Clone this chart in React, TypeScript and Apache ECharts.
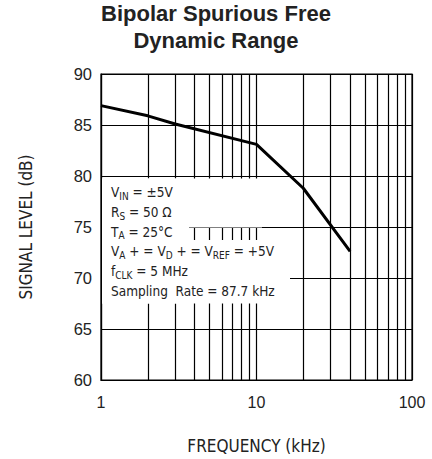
import React, { useEffect, useRef } from "react";
import * as echarts from "echarts";

const freqKHz = [1, 2, 3, 10, 20, 40];
const signalDb = [86.9, 85.9, 85.1, 83.1, 78.8, 72.6];
const minorGridX = [2, 3, 4, 5, 6, 7, 8, 9, 20, 30, 40, 50, 60, 70, 80, 90];
const xTickLabels = ["1", "10", "100"];
const yTicks = [60, 65, 70, 75, 80, 85, 90];
const noteLines = [
  "V{sub|IN} = ±5V",
  "R{sub|S} = 50 Ω",
  "T{sub|A} = 25°C",
  "V{sub|A} + = V{sub|D} + = V{sub|REF} = +5V",
  "f{sub|CLK} = 5 MHz",
  "Sampling  Rate = 87.7 kHz",
];

const plotFont = "'DejaVu Sans Condensed', 'Liberation Sans Narrow', 'DejaVu Sans', sans-serif";
const tickFont = "'Liberation Sans', Arial, sans-serif";

export default function App() {
  const ref = useRef<HTMLDivElement>(null);
  useEffect(() => {
    document.body.style.margin = "0";
    if (!ref.current) return;
    const chart = echarts.init(ref.current, null, { renderer: "svg" });
    chart.setOption({
      animation: false,
      backgroundColor: "#fff",
      title: {
        text: "Bipolar Spurious Free\nDynamic Range",
        left: "center",
        top: 0,
        padding: 0,
        textStyle: {
          fontFamily: tickFont,
          fontWeight: "bold",
          fontSize: 22,
          lineHeight: 27,
          color: "#222",
        },
      },
      grid: {
        left: 101,
        right: 20,
        top: 74,
        bottom: 76,
        show: true,
        borderColor: "#000",
        borderWidth: 1.2,
      },
      xAxis: {
        type: "log",
        logBase: 10,
        min: 1,
        max: 100,
        name: "FREQUENCY (kHz)",
        nameLocation: "middle",
        nameGap: 57,
        nameTextStyle: { fontFamily: plotFont, fontSize: 17, color: "#222" },
        axisLine: { show: true, lineStyle: { color: "#000", width: 1.2 } },
        axisTick: { show: false },
        axisLabel: {
          fontFamily: tickFont,
          fontSize: 16,
          color: "#222",
          margin: 14,
          formatter: (v: number) => {
            const i = [1, 10, 100].indexOf(Math.round(v));
            return i >= 0 ? xTickLabels[i] : "";
          },
        },
        splitLine: { show: true, lineStyle: { color: "#000", width: 1.2 } },
      },
      yAxis: {
        type: "value",
        min: yTicks[0],
        max: yTicks[yTicks.length - 1],
        interval: 5,
        name: "SIGNAL LEVEL (dB)",
        nameLocation: "middle",
        nameGap: 67,
        nameTextStyle: { fontFamily: plotFont, fontSize: 17, color: "#222" },
        axisLine: { show: true, lineStyle: { color: "#000", width: 1.2 } },
        axisTick: { show: false },
        axisLabel: { fontFamily: tickFont, fontSize: 16.5, color: "#222", margin: 9 },
        splitLine: { show: true, lineStyle: { color: "#000", width: 1.2 } },
      },
      series: [
        {
          type: "line",
          data: freqKHz.map((f, i) => [f, signalDb[i]]),
          showSymbol: false,
          lineStyle: { color: "#000", width: 3 },
          z: 5,
          markLine: {
            silent: true,
            symbol: "none",
            label: { show: false },
            lineStyle: { color: "#000", width: 1.2, type: "solid" },
            data: minorGridX.map((x) => ({ xAxis: x })),
            z: 1,
          },
        },
      ],
      graphic: [
        { type: "rect", z: 100, shape: { x: 102, y: 178.5, width: 160, height: 49 }, style: { fill: "#fff" } },
        { type: "rect", z: 100, shape: { x: 102, y: 178.5, width: 87, height: 125 }, style: { fill: "#fff" } },
        { type: "rect", z: 100, shape: { x: 102, y: 240, width: 188, height: 63.5 }, style: { fill: "#fff" } },
        {
          type: "text",
          z: 101,
          x: 111,
          y: 182,
          style: {
            text: noteLines.join("\n"),
            fontFamily: plotFont,
            fontSize: 13.5,
            lineHeight: 19.8,
            fill: "#222",
            rich: {
              sub: { fontSize: 10, lineHeight: 11, padding: [8.8, 0, 0, 0], fontFamily: plotFont, fill: "#222" },
            },
          },
        },
      ],
    });
    return () => chart.dispose();
  }, []);
  return <div ref={ref} style={{ width: 432, height: 459 }} />;
}
